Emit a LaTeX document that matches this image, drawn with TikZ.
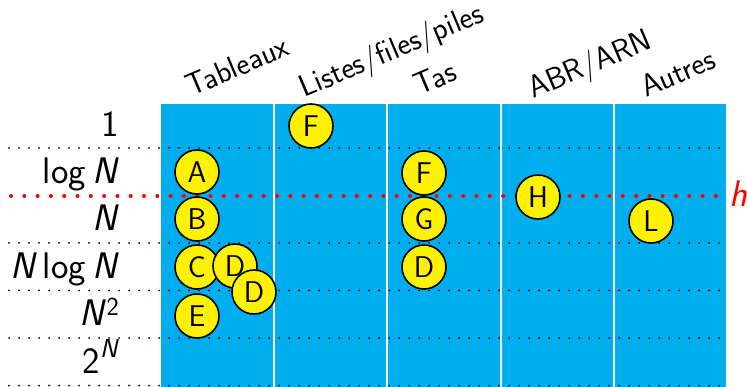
\documentclass[tikz,border=0pt]{standalone}
\usepackage{fontspec}
\definecolor{cellblue}{RGB}{0,174,239}
\definecolor{tokenyellow}{RGB}{255,242,0}
\newcommand{\vN}{\textit{N}}
\newcommand{\supscr}[2]{\raisebox{#1}{\fontsize{26pt}{26pt}\selectfont #2}}
\tikzset{
  token/.style={circle, draw=black, line width=1.6pt, fill=tokenyellow,
    minimum size=44pt, inner sep=0pt, font=\sffamily\fontsize{30}{30}\selectfont},
  rowlabel/.style={anchor=base east, inner sep=0pt,
    font=\sffamily\fontsize{37}{37}\selectfont},
  colhead/.style={anchor=base west, rotate=23, inner sep=0pt,
    font=\sffamily\fontsize{31}{31}\selectfont},
  gridline/.style={line width=2pt, line cap=round, dash pattern=on 0pt off 10pt},
  cutline/.style={red, line width=4pt, line cap=round, dash pattern=on 0pt off 13.3pt},
  separator/.style={white, line width=2pt},
}
\begin{document}
\begin{tikzpicture}[x=1pt, y=-1pt]
  \useasboundingbox (0,0) rectangle (747,387);

  % table body
  \fill[cellblue] (161,104.5) rectangle (726,387);
  \foreach \sx in {273.5,387,500.5,614}
    \draw[separator] (\sx,104.5) -- (\sx,387);

  % row separators
  \foreach \ry in {148,243,290.5,338,385.5}
    \draw[gridline] (9,\ry) -- (722,\ry);

  % threshold line
  \draw[cutline] (11,196) -- (726,196);
  \node[red, anchor=base west, inner sep=0pt,
        font=\sffamily\fontsize{37}{37}\selectfont] (hlabel) at (729,207) {\textit{h}};

  % row labels
  \node[rowlabel] (r1)    at (119,137) {1};
  \node[rowlabel] (rlog)  at (119,184) {log\,\vN};
  \node[rowlabel] (rn)    at (119,231) {\vN};
  \node[rowlabel] (rnlog) at (119,279) {\vN\,log\,\vN};
  \node[rowlabel] (rsq)   at (119,326) {\vN\supscr{10pt}{2}};
  \node[rowlabel] (rexp)  at (119,373) {2\supscr{16pt}{\vN}};

  % column headers
  \node[colhead] (hTab) at (191,97) {Tableaux};
  \node[colhead] (hLst) at (304,98) {Listes/files/piles};
  \node[colhead] (hTas) at (419,96) {Tas};
  \node[colhead] (hAbr) at (533,99) {ABR/ARN};
  \node[colhead] (hAut) at (646,98) {Autres};

  % tokens
  \node[token] (tA)  at (197,172) {A};
  \node[token] (tB)  at (197,219) {B};
  \node[token] (tC)  at (197,267) {C};
  \node[token] (tD1) at (235,266) {D};
  \node[token] (tD2) at (254,292) {D};
  \node[token] (tE)  at (197,316) {E};
  \node[token] (tF1) at (311,126) {F};
  \node[token] (tF2) at (424,173) {F};
  \node[token] (tG)  at (424,219) {G};
  \node[token] (tD3) at (424,267) {D};
  \node[token] (tH)  at (538,197) {H};
  \node[token] (tL)  at (651,221) {L};
\end{tikzpicture}
\end{document}
